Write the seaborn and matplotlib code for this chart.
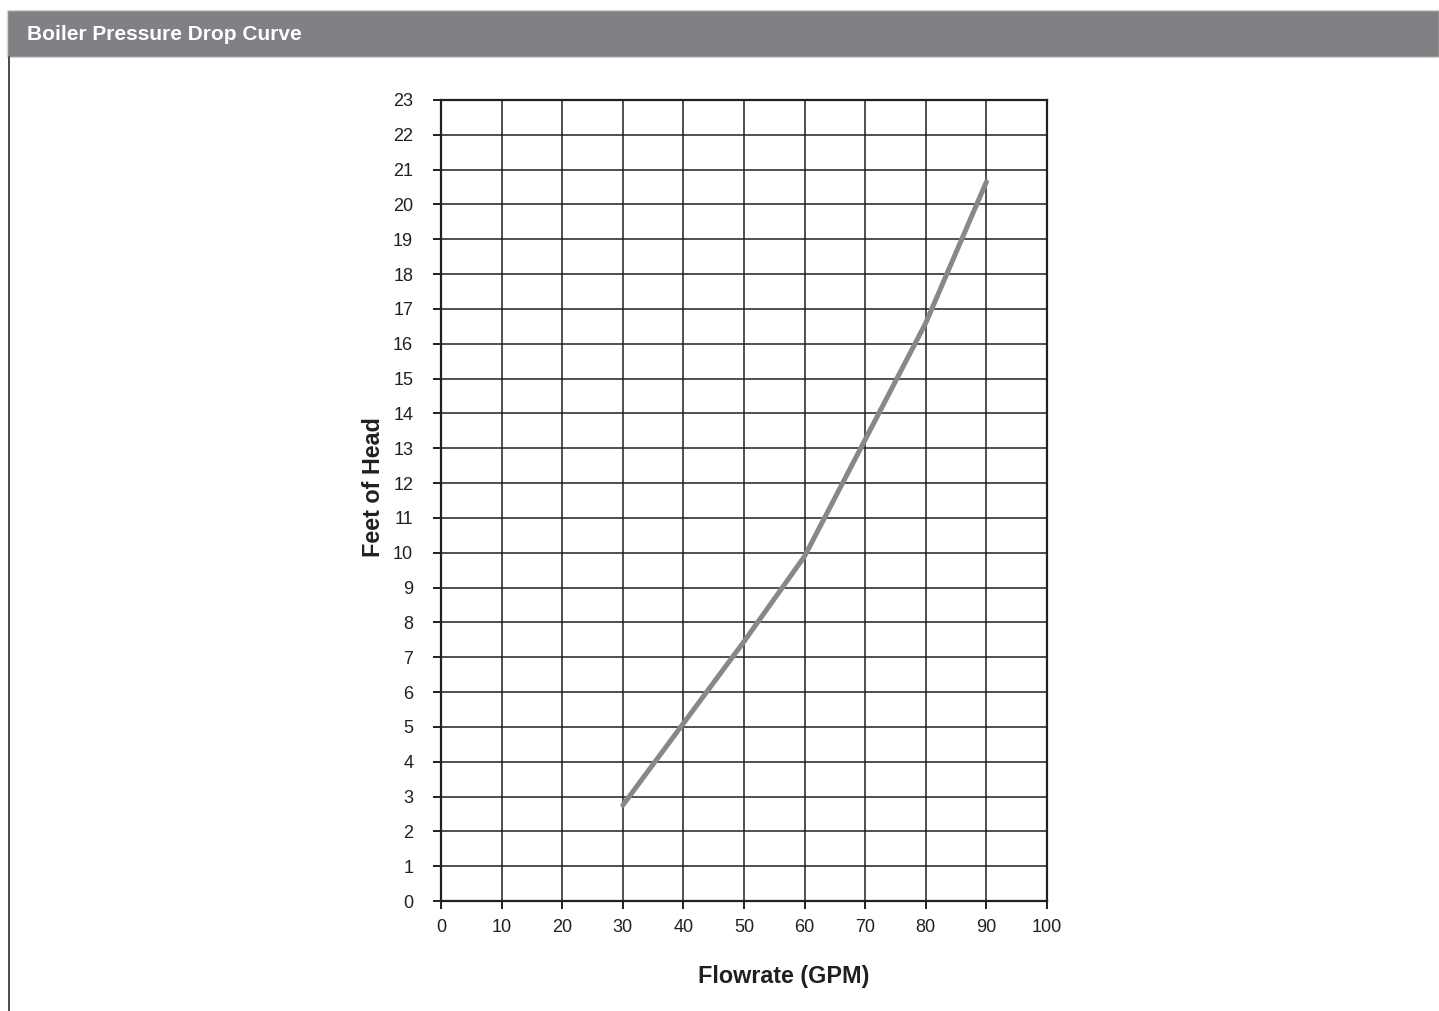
import pandas as pd
import numpy as np
import matplotlib
matplotlib.use("Agg")
import matplotlib.pyplot as plt
import seaborn as sns
from matplotlib.patches import Rectangle
from matplotlib.lines import Line2D

flow_gpm = [30, 40, 50, 60, 70, 80, 90]
feet_head = [2.75, 5.1, 7.45, 9.9, 13.25, 16.6, 20.65]
x_ticks = list(range(0, 101, 10))
y_ticks = list(range(0, 24))

df = pd.DataFrame({"Flowrate (GPM)": flow_gpm, "Feet of Head": feet_head})

sns.set_style("white")
plt.rcParams['font.family'] = ['Liberation Sans', 'DejaVu Sans']

W, H = 1439, 1011
fig = plt.figure(figsize=(W / 100, H / 100), dpi=100)
ax = fig.add_axes([441 / W, 1 - 901 / H, (1047 - 441) / W, (901 - 100) / H])

# header bar and left frame line
fig.patches.append(Rectangle((7 / W, 1 - 57 / H), 1 - 7 / W, 47 / H,
                             transform=fig.transFigure, facecolor='#808184',
                             edgecolor='#d8d8d8', linewidth=1, zorder=0))
fig.lines.append(Line2D([8.5 / W, 8.5 / W], [0, 1 - 57 / H],
                        transform=fig.transFigure, color='#3a3a3a', linewidth=1.3))
fig.text(27 / W, 1 - 35 / H, 'Boiler Pressure Drop Curve', color='white',
         fontsize=15, fontweight='bold', va='center', ha='left')

sns.lineplot(data=df, x="Flowrate (GPM)", y="Feet of Head", ax=ax,
             color='#87888b', linewidth=3.6, solid_capstyle='round', zorder=3)

ax.set_xlim(0, 100)
ax.set_ylim(0, 23)
ax.set_xticks(x_ticks)
ax.set_yticks(y_ticks)
ax.grid(True, color='#231f20', linewidth=1.1)
ax.set_axisbelow(True)
for s in ax.spines.values():
    s.set_color('#231f20')
    s.set_linewidth(1.6)
ax.tick_params(axis='both', direction='out', length=6, width=1.4, color='#231f20',
               labelsize=13, labelcolor='#231f20', left=True, bottom=True)
ax.tick_params(axis='y', pad=14)
ax.tick_params(axis='x', pad=7)
ax.set_xlabel('Flowrate (GPM)', fontsize=16.8, fontweight='bold', color='#231f20', labelpad=21)
ax.set_ylabel('Feet of Head', fontsize=16.8, fontweight='bold', color='#231f20', labelpad=6)
# labels sit a little off-centre in the original
ax.xaxis.label.set_x(0.566)
ax.yaxis.label.set_y(0.517)

fig.savefig('out.png', dpi=100, facecolor='white')
